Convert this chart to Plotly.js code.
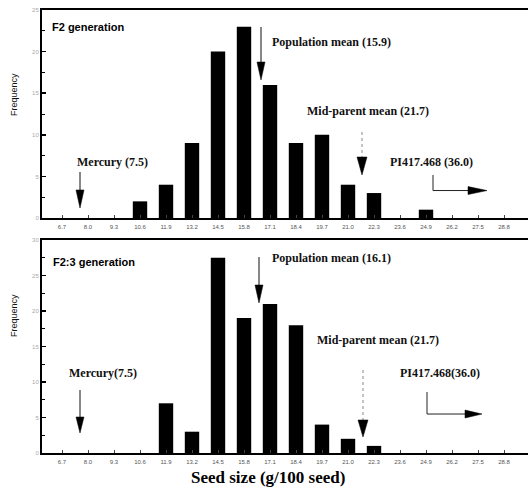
<!DOCTYPE html>
<html>
<head>
<meta charset="utf-8">
<script src="https://cdn.plot.ly/plotly-3.0.1.min.js"></script>
<style>
html,body{margin:0;padding:0;background:#fff;overflow:hidden;width:528px;height:488px;}
#chart{width:540px;height:488px;}
</style>
</head>
<body>
<div id="chart"></div>
<script>
// ---- data ----
var seedClasses = ["6.7","8.0","9.3","10.6","11.9","13.2","14.5","15.8","17.1","18.4","19.7","21.0","22.3","23.6","24.9","26.2","27.5","28.8"];
var f2Freq  = [0,0,0,2,4,9,20,23,16,9,10,4,3,0,1,0,0,0];
var f23Freq = [0,0,0,0,7,3,27.5,19,21,18,4,2,1,0,0,0,0,0];
var yTicksTop = [0,5,10,15,20,25];
var yTicksBottom = [0,5,10,15,20,25,30];

var xNum = seedClasses.map(Number);

var traces = [
  {type:'bar', x:xNum, y:f2Freq, xaxis:'x', yaxis:'y', width:0.72,
   marker:{color:'#000', line:{width:0}}, hoverinfo:'skip', showlegend:false},
  {type:'bar', x:xNum, y:f23Freq, xaxis:'x2', yaxis:'y2', width:0.72,
   marker:{color:'#000', line:{width:0}}, hoverinfo:'skip', showlegend:false}
];

var xRange = [5.7, 30.6];
function xAx(anchor){
  return {range:xRange, anchor:anchor, tickvals:xNum, ticktext:seedClasses,
    tickfont:{family:'Liberation Sans', size:6, color:'#555'},
    ticks:'inside', ticklen:3, tickcolor:'#444', tickwidth:1,
    showline:true, linecolor:'#000', linewidth:2, mirror:true,
    showgrid:false, zeroline:false, fixedrange:true, ticklabelstandoff:2};
}
function yAx(domain, range, vals, anchor){
  return {domain:domain, range:range, anchor:anchor, tickvals:vals,
    tickfont:{family:'Liberation Sans', size:6, color:'#aaa'},
    ticks:'inside', ticklen:4, tickcolor:'#000', tickwidth:1.5,
    minor:{dtick:2.5, ticks:'inside', ticklen:3, tickcolor:'#000', tickwidth:1},
    showline:true, linecolor:'#000', linewidth:2, mirror:true,
    showgrid:false, zeroline:false, fixedrange:true};
}

var serif = {family:'Liberation Serif', size:12, color:'#111'};
function txt(text, x, y, xr, yr){
  return {text:'<b>'+text+'</b>', x:x, y:y, xref:xr, yref:yr, xanchor:'left', yanchor:'middle',
          showarrow:false, font:serif};
}

var annotations = [
  {text:'<b>F2 generation</b>', x:50, y:27, xref:'paper', yref:'paper', showarrow:false},
  txt('Population mean (15.9)', 17.1, 21.15, 'x', 'y'),
  txt('Mid-parent mean (21.7)', 18.85, 12.86, 'x', 'y'),
  txt('Mercury (7.5)', 7.35, 6.73, 'x', 'y'),
  txt('PI417.468 (36.0)', 23.0, 6.73, 'x', 'y'),
  txt('Population mean (16.1)', 17.1, 27.46, 'x2', 'y2'),
  txt('Mid-parent mean (21.7)', 19.35, 15.9, 'x2', 'y2'),
  txt('Mercury(7.5)', 6.95, 11.27, 'x2', 'y2'),
  txt('PI417.468(36.0)', 23.5, 11.27, 'x2', 'y2')
];
// panel titles and axis titles placed in pixel-derived paper coords
var plotTop = 10, plotBottom = 453, plotH = plotBottom - plotTop;
function py(p){ return (plotBottom - p)/plotH; }
function px(p){ return (p - 42)/498; }
annotations[0] = {text:'<b>F2 generation</b>', x:px(50), y:py(27), xref:'paper', yref:'paper',
  xanchor:'left', yanchor:'middle', showarrow:false, font:{family:'Liberation Sans', size:11, color:'#000'}};
annotations.push({text:'<b>F2:3 generation</b>', x:px(51), y:py(262), xref:'paper', yref:'paper',
  xanchor:'left', yanchor:'middle', showarrow:false, font:{family:'Liberation Sans', size:11, color:'#000'}});
annotations.push({text:'Frequency', x:px(14), y:py(95), xref:'paper', yref:'paper', textangle:-90,
  xanchor:'center', yanchor:'middle', showarrow:false, font:{family:'Liberation Sans', size:9, color:'#111'}});
annotations.push({text:'Frequency', x:px(14), y:py(316), xref:'paper', yref:'paper', textangle:-90,
  xanchor:'center', yanchor:'middle', showarrow:false, font:{family:'Liberation Sans', size:9, color:'#111'}});
annotations.push({text:'<b>Seed size (g/100 seed)</b>', x:px(268), y:py(477), xref:'paper', yref:'paper',
  xanchor:'center', yanchor:'middle', showarrow:false, font:{family:'Liberation Serif', size:17, color:'#000'}});

// arrows: vertical down arrow
function downArrow(x, yStart, yBase, yTip, hw, xr, yr, dotted){
  return [
    {type:'line', xref:xr, yref:yr, x0:x, x1:x, y0:yStart, y1:yBase,
     line:{color: dotted ? '#888' : '#111', width:1, dash: dotted ? 'dot' : 'solid'}},
    {type:'path', xref:xr, yref:yr,
     path:'M '+(x-hw)+' '+yBase+' L '+(x+hw)+' '+yBase+' L '+x+' '+yTip+' Z',
     fillcolor:'#000', line:{color:'#000', width:0.5}}
  ];
}
function elbowArrow(x, yStart, yMid, xBase, xTip, hh, xr, yr){
  return [
    {type:'path', xref:xr, yref:yr, path:'M '+x+' '+yStart+' L '+x+' '+yMid+' L '+xBase+' '+yMid,
     line:{color:'#222', width:1}},
    {type:'path', xref:xr, yref:yr,
     path:'M '+xBase+' '+(yMid-hh)+' L '+xBase+' '+(yMid+hh)+' L '+xTip+' '+yMid+' Z',
     fillcolor:'#000', line:{color:'#000', width:0.5}}
  ];
}
var shapes = [].concat(
  downArrow(16.65, 22.96, 18.75, 16.59, 0.2, 'x', 'y', false),
  downArrow(21.7, 10.34, 7.33, 5.17, 0.25, 'x', 'y', true),
  downArrow(7.6, 5.53, 3.37, 1.2, 0.2, 'x', 'y', false),
  elbowArrow(25.25, 5.17, 3.3, 27.0, 27.95, 0.48, 'x', 'y'),
  downArrow(16.55, 27.6, 23.66, 21.13, 0.2, 'x2', 'y2', false),
  downArrow(21.75, 11.69, 4.65, 2.25, 0.25, 'x2', 'y2', true),
  downArrow(7.6, 8.87, 5.07, 2.82, 0.2, 'x2', 'y2', false),
  elbowArrow(24.95, 8.59, 5.49, 26.85, 27.7, 0.56, 'x2', 'y2')
);

var layout = {
  width:540, height:488,
  margin:{l:42, r:0, t:10, b:35},
  paper_bgcolor:'#fff', plot_bgcolor:'#fff',
  bargap:0.3,
  xaxis: xAx('y'),
  xaxis2: xAx('y2'),
  yaxis: yAx([py(218), 1], [0,25], yTicksTop, 'x'),
  yaxis2: yAx([0, py(240)], [0,30], yTicksBottom, 'x2'),
  annotations: annotations,
  shapes: shapes,
  showlegend:false
};

Plotly.newPlot('chart', traces, layout, {staticPlot:true, displayModeBar:false});
</script>
</body>
</html>
